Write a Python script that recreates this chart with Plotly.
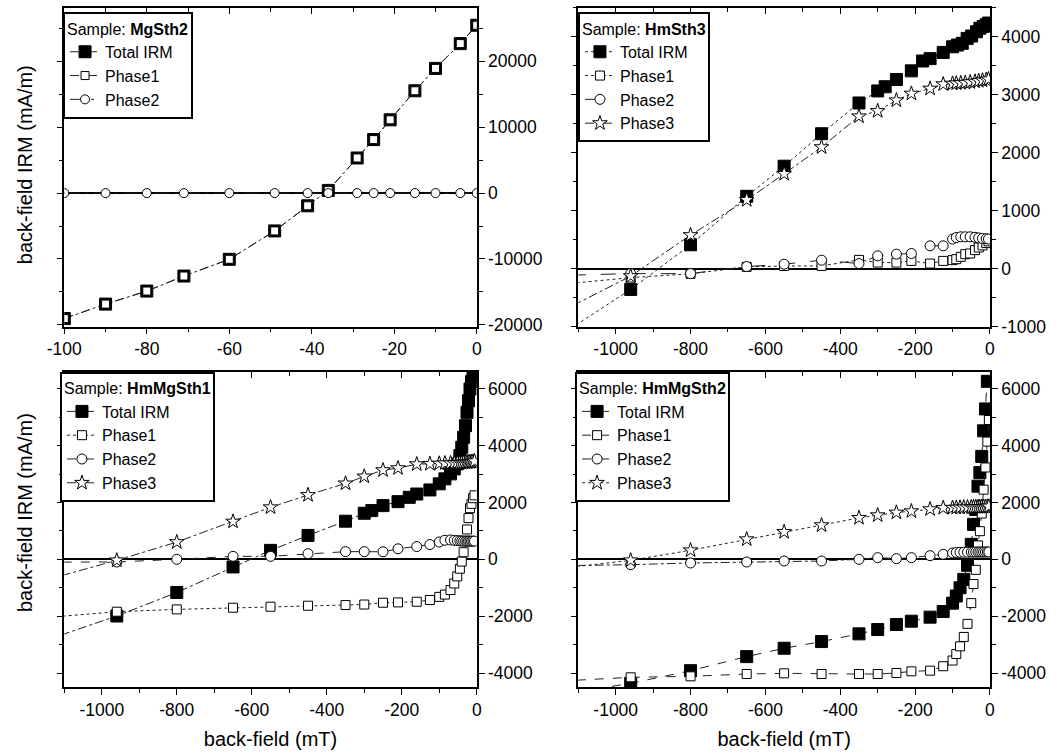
import plotly.graph_objects as go

# ---- MgSth2 (top left), back-field in mT, IRM in mA/m ----
mg2_field = [-100, -90, -80, -71, -60, -49, -41, -36, -29, -25, -21, -15, -10, -4, 0]
mg2_total = [-19040, -16850, -14870, -12590, -10050, -5740, -1930, 410, 5330, 8120, 11120, 15530, 18930, 22690, 25480]
mg2_phase1 = [-19040, -16850, -14870, -12590, -10050, -5740, -1930, 410, 5330, 8120, 11120, 15530, 18930, 22690, 25480]
mg2_phase2 = [0, 0, 0, 0, 0, 0, 0, 0, 0, 0, 0, 0, 0, 0, 0]

# ---- HmSth3 (top right) ----
hm3_field_total = [-1200, -960, -800, -650, -550, -450, -350, -300, -280, -250, -210, -180, -160, -125,
                   -100, -87, -74, -61, -49, -36, -27, -18, -10, -4]
hm3_total = [-1370, -360, 411, 1248, 1768, 2329, 2860, 3068, 3140, 3265, 3414, 3585, 3625, 3733,
             3830, 3860, 3890, 3975, 4016, 4090, 4150, 4180, 4210, 4240]
hm3_field = [-1200, -960, -800, -650, -550, -450, -350, -300, -250, -210, -160, -125, -100, -90, -78,
             -66, -53, -40, -30, -20, -10, -4]
hm3_phase1 = [-305, -156, -90, 30, 45, 46, 150, 104, 104, 133, 87, 133, 146, 162, 203, 249, 261, 319,
              364, 400, 440, 470]
hm3_phase2 = [-126, -87, -87, 35, 76, 145, 87, 220, 249, 260, 393, 393, 509, 537, 549, 549, 549, 540,
              530, 520, 515, 510]
hm3_phase3 = [-920, -130, 579, 1185, 1636, 2097, 2629, 2721, 2906, 3022, 3109, 3184, 3195, 3200, 3205,
              3210, 3220, 3230, 3240, 3250, 3260, 3270]

# ---- HmMgSth1 (bottom left) ----
hmmg1_field_total = [-1200, -960, -800, -650, -550, -450, -350, -300, -280, -250, -210, -180, -160, -125,
                     -100, -85, -70, -60, -52, -45, -40, -35, -30, -26, -22, -18, -14, -10, -6]
hmmg1_total = [-3074, -1994, -1166, -268, 315, 840, 1341, 1621, 1714, 1889, 2029, 2180, 2297, 2440,
               2655, 2830, 3006, 3181, 3357, 3649, 3941, 4292, 4702, 5170, 5579, 5990, 6250, 6450, 6650]
hmmg1_field = [-1200, -960, -800, -650, -550, -450, -350, -300, -250, -210, -160, -125, -100, -85, -70,
               -60, -52, -45, -40, -35, -30, -26, -22, -18, -14, -10, -6]
hmmg1_phase1 = [-2104, -1842, -1761, -1702, -1667, -1632, -1609, -1590, -1527, -1516, -1492, -1430, -1320,
                -1240, -1080, -850, -600, -330, -80, 250, 650, 1050, 1450, 1800, 1950, 2150, 2250]
hmmg1_phase2 = [-100, -93, 0, 105, 105, 198, 270, 270, 265, 370, 450, 520, 610, 670, 680, 670, 660, 650,
                645, 640, 640, 640, 640, 640, 640, 640, 640]
hmmg1_phase3 = [-910, -35, 606, 1329, 1831, 2262, 2670, 2915, 3137, 3207, 3346, 3358, 3370, 3380, 3385,
                3390, 3395, 3400, 3400, 3405, 3410, 3415, 3420, 3425, 3430, 3440, 3450]

# ---- HmMgSth2 (bottom right) ----
hmmg2_field = [-1200, -960, -800, -650, -550, -450, -350, -300, -250, -210, -160, -125, -100, -90, -80,
               -70, -60, -50, -44, -38, -32, -27, -22, -17, -12, -7, -3]
hmmg2_total = [-4860, -4363, -3916, -3422, -3128, -2893, -2622, -2470, -2293, -2176, -2034, -1835, -1541,
               -1290, -1000, -706, -212, 527, 1229, 1755, 2574, 3050, 3620, 4520, 5290, 6260, 7000]
hmmg2_phase1 = [-4320, -4150, -4116, -4034, -4010, -4034, -4034, -4034, -3998, -3940, -3916, -3760, -3560,
                -3330, -3060, -2730, -2270, -1540, -870, -370, 490, 990, 1610, 2450, 3230, 4140, 4900]
hmmg2_phase2 = [-235, -188, -129, -94, -59, -59, 0, 59, 24, 59, 129, 176, 223, 240, 247, 250, 252, 255,
                256, 257, 258, 258, 258, 258, 258, 258, 258]
hmmg2_phase3 = [-400, -35, 318, 706, 964, 1200, 1458, 1552, 1646, 1693, 1764, 1811, 1815, 1820, 1825,
                1830, 1832, 1835, 1838, 1840, 1842, 1845, 1848, 1850, 1852, 1855, 1860]

# tick labels
mg2_xticks = [-100, -80, -60, -40, -20, 0]
field_xticks = [-1000, -800, -600, -400, -200, 0]
mg2_yticks = [-20000, -10000, 0, 10000, 20000]
hm3_yticks = [-1000, 0, 1000, 2000, 3000, 4000]
hmmg_yticks = [-4000, -2000, 0, 2000, 4000, 6000]

FONT = "Arial, Liberation Sans, sans-serif"
LINE = "#222222"

fig = go.Figure()


def add_series(x, y, name, symbol, size, filled, dash, n, legend):
    suffix = "" if n == 1 else str(n)
    fig.add_trace(go.Scatter(
        x=x, y=y, name=name, mode="lines+markers",
        line=dict(color=LINE, width=1, dash=dash),
        marker=dict(symbol=symbol, size=size, color="black" if filled else "white",
                    line=dict(color="black", width=1)),
        xaxis="x" + suffix, yaxis="y" + suffix, legend=legend))


def style_axes(n, xdom, ydom, xr, yr, xticks, xminor, yticks, yminor, xtitle=None):
    suffix = "" if n == 1 else str(n)
    common = dict(showline=True, linecolor="black", linewidth=1.5,
                  ticks="outside", ticklen=6, tickwidth=1.2, tickcolor="black",
                  showgrid=False, automargin=False,
                  tickfont=dict(size=17.5, color="black", family=FONT))
    fig.update_layout(**{
        "xaxis" + suffix: dict(
            common, domain=xdom, range=xr, anchor="y" + suffix, zeroline=False, mirror=True,
            tickmode="array", tickvals=xticks, ticktext=[str(v) for v in xticks],
            minor=dict(tickmode="linear", tick0=0, dtick=xminor, ticklen=4,
                       tickcolor="black", ticks="outside"),
            title=dict(text=xtitle, font=dict(size=20, family=FONT, color="black"), standoff=13)
            if xtitle else None),
        "yaxis" + suffix: dict(
            common, domain=ydom, range=yr, anchor="x" + suffix, side="right", mirror="ticks",
            zeroline=True, zerolinecolor="black", zerolinewidth=1.5,
            tickmode="array", tickvals=yticks, ticktext=[str(v) for v in yticks],
            minor=dict(tickmode="linear", tick0=0, dtick=yminor, ticklen=4,
                       tickcolor="black", ticks="outside")),
        # top frame: ticks pointing inward, no labels
        "xaxis" + str(n + 4): dict(
            overlaying="x" + suffix, side="top", anchor="y" + suffix, range=xr,
            showline=False, showgrid=False, zeroline=False, showticklabels=False,
            ticks="inside", ticklen=6, tickwidth=1.2, tickcolor="black",
            tickmode="array", tickvals=xticks,
            minor=dict(tickmode="linear", tick0=0, dtick=xminor, ticklen=4,
                       tickcolor="black", ticks="inside")),
    })
    fig.add_trace(go.Scatter(x=[], y=[], xaxis="x" + str(n + 4), yaxis="y" + suffix,
                             showlegend=False, hoverinfo="skip"))


# panel 1
add_series(mg2_field, mg2_total, "Total IRM", "square", 12, True, "dashdot", 1, "legend")
add_series(mg2_field, mg2_phase1, "Phase1", "square", 8, False, "dash", 1, "legend")
add_series(mg2_field, mg2_phase2, "Phase2", "circle", 9, False, "longdashdot", 1, "legend")

# panel 2
add_series(hm3_field_total, hm3_total, "Total IRM", "square", 12, True, "dot", 2, "legend2")
add_series(hm3_field, hm3_phase1, "Phase1", "square", 9, False, "dot", 2, "legend2")
add_series(hm3_field, hm3_phase2, "Phase2", "circle", 10, False, "longdash", 2, "legend2")
add_series(hm3_field, hm3_phase3, "Phase3", "star", 11, False, "dashdot", 2, "legend2")

# panel 3
add_series(hmmg1_field_total, hmmg1_total, "Total IRM", "square", 12, True, "dashdot", 3, "legend3")
add_series(hmmg1_field, hmmg1_phase1, "Phase1", "square", 9, False, "dot", 3, "legend3")
add_series(hmmg1_field, hmmg1_phase2, "Phase2", "circle", 10, False, "dash", 3, "legend3")
add_series(hmmg1_field, hmmg1_phase3, "Phase3", "star", 11, False, "dashdot", 3, "legend3")

# panel 4
add_series(hmmg2_field, hmmg2_total, "Total IRM", "square", 12, True, "dash", 4, "legend4")
add_series(hmmg2_field, hmmg2_phase1, "Phase1", "square", 9, False, "dash", 4, "legend4")
add_series(hmmg2_field, hmmg2_phase2, "Phase2", "circle", 10, False, "dashdot", 4, "legend4")
add_series(hmmg2_field, hmmg2_phase3, "Phase3", "star", 11, False, "dot", 4, "legend4")

left_dom = [0.0605, 0.4485]
right_dom = [0.5440, 0.9313]
top_dom = [0.5664, 0.9894]
bot_dom = [0.0873, 0.5064]

style_axes(1, left_dom, top_dom, [-100, 0], [-20250, 28100], mg2_xticks, 10, mg2_yticks, 5000)
style_axes(2, right_dom, top_dom, [-1100, 0], [-1000, 4500], field_xticks, 100, hm3_yticks, 500)
style_axes(3, left_dom, bot_dom, [-1100, 0], [-4500, 6600], field_xticks, 100, hmmg_yticks, 1000,
           "back-field (mT)")
style_axes(4, right_dom, bot_dom, [-1100, 0], [-4500, 6600], field_xticks, 100, hmmg_yticks, 1000,
           "back-field (mT)")

legend_style = dict(bgcolor="white", bordercolor="black", borderwidth=2,
                    font=dict(size=16, family=FONT, color="black"),
                    xanchor="left", yanchor="top", tracegroupgap=0)
fig.update_layout(
    width=1063, height=753,
    margin=dict(l=0, r=0, t=0, b=0, autoexpand=False),
    paper_bgcolor="white", plot_bgcolor="white",
    font=dict(family=FONT, color="black"),
    legend=dict(legend_style, x=0.0593, y=0.984,
                title=dict(text="Sample: <b>MgSth2</b>", font=dict(size=16))),
    legend2=dict(legend_style, x=0.5437, y=0.984,
                 title=dict(text="Sample: <b>HmSth3</b>", font=dict(size=16))),
    legend3=dict(legend_style, x=0.0564, y=0.5064,
                 title=dict(text="Sample: <b>HmMgSth1</b>", font=dict(size=16))),
    legend4=dict(legend_style, x=0.541, y=0.5064,
                 title=dict(text="Sample: <b>HmMgSth2</b>", font=dict(size=16))),
)

for yc in [0.782, 0.32]:
    fig.add_annotation(text="back-field IRM (mA/m)", x=0.0235, y=yc, xref="paper", yref="paper",
                       textangle=-90, showarrow=False, xanchor="center", yanchor="middle",
                       font=dict(size=20, family=FONT, color="black"))

# remove the browser's default page margin so the figure sits at the window origin
fig.write_html("out.html", config={"displayModeBar": False},
               post_script="document.body.style.margin='0px';")
